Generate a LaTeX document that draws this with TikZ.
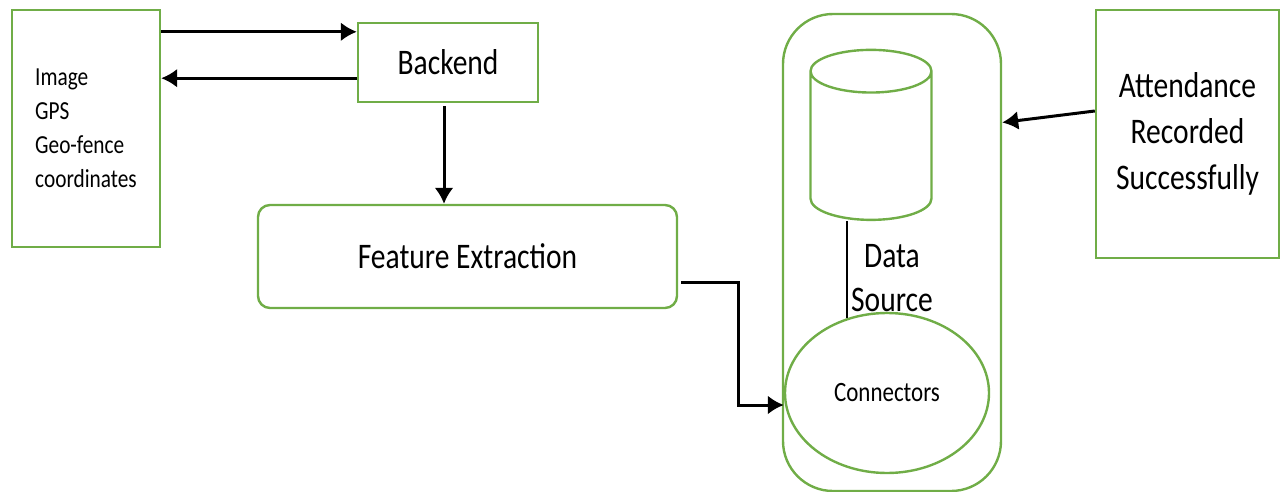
\documentclass[tikz,border=0pt]{standalone}
\usepackage{fontspec}
\setmainfont{Carlito}[FakeStretch=0.82]
\usetikzlibrary{positioning, shapes.geometric, arrows.meta}
\definecolor{boxgreen}{HTML}{70AD47}

\begin{document}
\begin{tikzpicture}[
    x=0.5pt, y=-0.5pt,
    >={Latex[length=8pt,width=9.5pt]},
    every edge/.style={draw, line width=1.5pt},
    gbox/.style={draw=boxgreen, line width=1.2pt, align=center, inner sep=0pt},
    rbox/.style={gbox, rounded corners=6pt},
    big/.style={font=\fontsize{18}{23}\selectfont},
    label/.style={align=center, big}]

    \useasboundingbox (0,0) rectangle (1280,492);

    \node at (86,128.5) [gbox, minimum width=74pt, minimum height=118.5pt, align=left, font=\fontsize{13}{17}\selectfont, text depth=-3pt] (input) {Image \\ GPS \\ Geo-fence \\ coordinates};
    \node at (448,62.5) [gbox, big, minimum width=90pt, minimum height=39.5pt] (backend) {Backend};
    \node at (467.5,256.5) [rbox, big, minimum width=209.5pt, minimum height=51.5pt] (features) {Feature Extraction};
    \node at (892,252.5) [rbox, rounded corners=25pt, minimum width=109pt, minimum height=238.5pt] (store) {};
    \node at (871,151) [cylinder, shape border rotate=90, draw=boxgreen, line width=1.2pt, minimum width=60.5pt, minimum height=85pt, aspect=3.2] (db) {};
    \node at (887,393) [ellipse, draw=boxgreen, line width=1.2pt, minimum width=102pt, minimum height=80pt, inner sep=0pt, font=\fontsize{14}{17}\selectfont] (conn) {Connectors};
    \node at (892,278) [label, font=\fontsize{18}{22}\selectfont] (source) {Data \\ Source};
    \node at (1187.5,134) [gbox, big, minimum width=91.5pt, minimum height=124pt] (attend) {Attendance \\ Recorded \\ Successfully};

    \coordinate (fwd) at ([yshift=-5pt]backend.north west);
    \coordinate (bwd) at ([yshift=12.5pt]backend.south west);
    \coordinate (down) at ([yshift=-1.5pt,xshift=-2pt]backend.south);
    \path (input.east |- fwd) edge [->] (fwd);
    \path (bwd) edge [->] (input.east |- bwd);
    \path (down) edge [->] (features.north -| down);
    \draw [->, line width=1.5pt] ([xshift=1.5pt,yshift=-13pt]features.east) -- ++(57,0) |- ([yshift=-6pt]conn.west);
    \path ([yshift=11.5pt]attend.west) edge [->] ([yshift=65pt]store.east);
    \draw [line width=1pt] (conn.118 |- db.bottom) -- (conn.118);

\end{tikzpicture}
\end{document}
